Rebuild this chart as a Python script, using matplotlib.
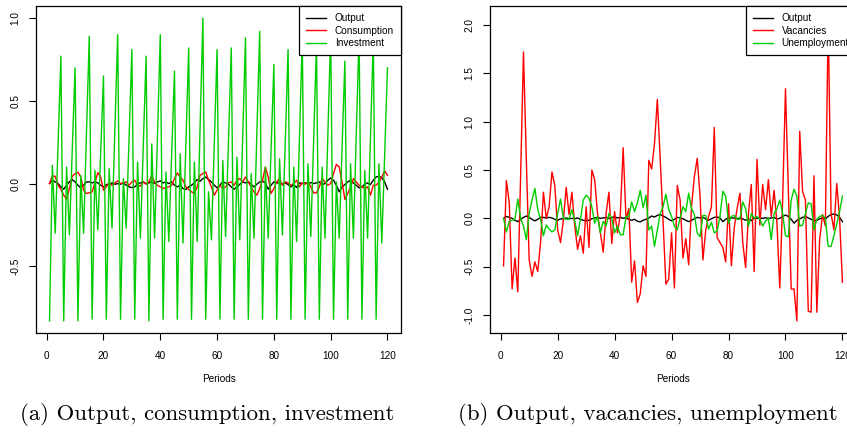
import matplotlib
matplotlib.use("Agg")
import matplotlib.pyplot as plt

periods = list(range(1, 121))

output = [
    0.0, 0.02, 0.01, 0.0, -0.02, -0.034, -0.01, 0.01, 0.024, 0.01,
    -0.01, -0.026, -0.01, 0.01, 0.01, 0.004, 0.01, 0.004, -0.01, -0.02,
    -0.006, -0.004, 0.004, -0.004, 0.0, -0.004, 0.004, -0.01, -0.02, -0.024,
    -0.02, -0.004, 0.004, 0.01, 0.0, 0.004, 0.01, 0.0, 0.01, 0.016,
    0.004, 0.01, 0.0, 0.01, -0.01, -0.02, -0.01, -0.03, -0.036, -0.02,
    -0.01, 0.004, 0.024, 0.014, 0.03, 0.04, 0.024, 0.01, -0.01, -0.026,
    -0.01, 0.01, 0.004, -0.004, -0.02, -0.034, -0.02, -0.004, 0.01, 0.004,
    0.01, -0.006, -0.02, -0.004, 0.01, 0.014, 0.004, -0.034, -0.01, 0.01,
    0.004, 0.004, -0.004, 0.004, -0.006, -0.02, -0.006, -0.024, 0.004, 0.0,
    0.004, 0.0, 0.006, 0.0, 0.004, 0.01, -0.006, 0.0, 0.02, 0.034,
    0.02, -0.01, -0.05, -0.02, -0.006, 0.01, 0.02, 0.004, -0.01, -0.026,
    -0.02, -0.004, 0.004, -0.006, 0.02, 0.04, 0.044, 0.036, 0.01, -0.034,
]

consumption = [
    0.0, 0.046, 0.044, -0.01, -0.034, -0.07, -0.094, -0.03, 0.044, 0.06,
    0.068, 0.04, -0.04, -0.06, -0.056, -0.05, 0.004, 0.066, 0.04, -0.04,
    -0.02, 0.004, -0.01, 0.004, 0.016, 0.0, 0.004, 0.01, -0.01, 0.01,
    0.02, -0.01, -0.016, 0.01, -0.004, 0.01, 0.046, 0.01, -0.01, -0.02,
    -0.03, -0.024, -0.02, -0.01, 0.03, 0.064, 0.04, 0.02, -0.02, -0.036,
    -0.05, -0.06, -0.02, 0.05, 0.06, 0.07, 0.02, -0.02, -0.07, -0.04,
    -0.01, -0.03, -0.02, 0.004, 0.01, -0.01, 0.02, 0.03, 0.01, 0.04,
    0.01, -0.02, -0.05, -0.07, -0.03, 0.02, 0.10, 0.04, -0.06, -0.03,
    0.01, 0.03, -0.01, 0.01, 0.004, -0.01, 0.0, 0.02, -0.02, 0.004,
    -0.004, 0.01, -0.02, -0.056, -0.056, -0.02, 0.03, 0.01, -0.01, 0.0,
    0.06, 0.116, 0.10, 0.01, -0.096, -0.06, -0.02, 0.03, 0.01, -0.01,
    -0.02, -0.03, -0.02, -0.07, -0.01, -0.01, 0.01, 0.04, 0.076, 0.05,
]

investment = [
    -0.83, 0.11, -0.30, 0.23, 0.77, -0.83, 0.10, -0.31, 0.20, 0.70,
    -0.83, 0.05, -0.30, 0.30, 0.89, -0.82, 0.08, -0.28, 0.18, 0.65,
    -0.82, 0.09, -0.27, 0.32, 0.90, -0.82, 0.03, -0.27, 0.27, 0.81,
    -0.82, 0.13, -0.33, 0.22, 0.77, -0.83, 0.24, -0.33, 0.28, 0.90,
    -0.82, 0.07, -0.35, 0.17, 0.68, -0.82, 0.18, -0.36, 0.23, 0.82,
    -0.82, 0.13, -0.35, 0.33, 1.00, -0.82, -0.05, -0.34, 0.23, 0.81,
    -0.82, 0.14, -0.32, 0.25, 0.82, -0.82, 0.16, -0.34, 0.27, 0.88,
    -0.82, 0.06, -0.33, 0.30, 0.92, -0.82, 0.10, -0.33, 0.20, 0.72,
    -0.82, 0.15, -0.31, 0.25, 0.81, -0.82, 0.10, -0.35, 0.27, 0.88,
    -0.82, 0.12, -0.32, 0.26, 0.84, -0.82, 0.10, -0.33, 0.29, 0.91,
    -0.82, 0.01, -0.33, 0.21, 0.74, -0.82, 0.12, -0.33, 0.29, 0.90,
    -0.82, 0.08, -0.33, 0.27, 0.87, -0.82, 0.12, -0.36, 0.17, 0.70,
]

vacancies = [
    -0.49, 0.39, 0.16, -0.73, -0.41, -0.76, 0.45, 1.72, 0.60, -0.43,
    -0.60, -0.45, -0.55, -0.25, 0.27, 0.00, 0.12, 0.48, 0.34, -0.12,
    -0.25, -0.02, 0.32, 0.04, 0.27, -0.08, -0.32, -0.18, -0.36, 0.12,
    -0.30, 0.50, 0.40, 0.05, -0.15, -0.35, 0.05, 0.27, -0.26, 0.07,
    -0.15, 0.04, 0.73, -0.01, 0.10, -0.66, -0.44, -0.87, -0.78, -0.49,
    -0.60, 0.60, 0.51, 0.77, 1.23, 0.62, -0.02, -0.68, -0.63, -0.15,
    -0.72, 0.34, 0.19, -0.41, -0.21, -0.48, 0.12, 0.43, 0.62, 0.23,
    -0.43, -0.12, 0.02, 0.12, 0.94, -0.20, -0.25, -0.30, -0.45, 0.15,
    -0.49, -0.10, 0.10, 0.26, -0.25, -0.51, 0.05, 0.35, -0.55, 0.61,
    -0.07, 0.35, 0.09, 0.40, 0.02, 0.29, -0.05, -0.72, 0.19, 1.34,
    0.30, -0.73, -0.73, -1.06, 0.90, 0.28, 0.19, -0.96, -0.97, 0.44,
    -0.97, -0.22, 0.04, -0.08, 2.07, 0.05, -0.12, 0.36, 0.00, -0.66,
]

unemployment = [
    0.00, -0.14, -0.03, -0.02, -0.01, 0.20, 0.00, -0.08, -0.22, 0.05,
    0.19, 0.31, 0.09, -0.01, -0.18, -0.07, -0.11, -0.14, -0.12, 0.05,
    0.20, 0.00, -0.01, -0.01, 0.09, -0.03, -0.18, -0.01, 0.19, 0.24,
    0.21, 0.12, -0.05, 0.02, -0.15, -0.03, -0.08, 0.05, 0.00, -0.15,
    -0.08, -0.17, -0.17, 0.02, 0.02, 0.17, 0.07, 0.16, 0.29, 0.11,
    0.24, -0.12, -0.08, -0.29, -0.12, 0.05, 0.12, 0.25, 0.09, 0.02,
    -0.08, -0.12, 0.00, 0.12, 0.07, 0.26, 0.10, 0.04, -0.15, -0.19,
    0.03, 0.03, -0.11, -0.04, -0.15, -0.13, 0.02, 0.28, 0.23, -0.05,
    0.02, 0.03, -0.01, -0.01, 0.17, 0.10, -0.08, 0.05, 0.00, 0.02,
    -0.01, -0.08, -0.03, 0.00, -0.22, 0.05, 0.10, 0.19, 0.05, -0.18,
    -0.19, 0.19, 0.30, 0.23, -0.08, -0.07, 0.05, 0.16, 0.15, -0.12,
    -0.01, 0.02, 0.03, 0.00, -0.29, -0.29, -0.18, -0.06, 0.07, 0.23,
]

x_ticks = [0, 20, 40, 60, 80, 100, 120]
left_yticks = [-0.5, 0.0, 0.5, 1.0]
left_ytick_labels = ["-0.5", "0.0", "0.5", "1.0"]
right_yticks = [-1.0, -0.5, 0.0, 0.5, 1.0, 1.5, 2.0]
right_ytick_labels = ["-1.0", "-0.5", "0.0", "0.5", "1.0", "1.5", "2.0"]
left_labels = ["Output", "Consumption", "Investment"]
right_labels = ["Output", "Vacancies", "Unemployment"]
x_label = "Periods"
caption_a = "(a) Output, consumption, investment"
caption_b = "(b) Output, vacancies, unemployment"

COL_BLACK = "#000000"
COL_RED = "#FF0000"
COL_GREEN = "#00CD00"

W, H = 847, 446
fig = plt.figure(figsize=(W / 100, H / 100), dpi=100)
plt.rcParams["font.family"] = ["Liberation Sans", "DejaVu Sans"]
FS = 7.2


def px_axes(l, t, r, b):
    return fig.add_axes([l / W, 1 - b / H, (r - l) / W, (b - t) / H])


def r_range(*series):
    lo = min(min(s) for s in series)
    hi = max(max(s) for s in series)
    d = (hi - lo) * 0.04
    return lo - d, hi + d


def style(ax, yticks, ylabels, series):
    xlo, xhi = r_range(periods)
    ax.set_xlim(xlo, xhi)
    ax.set_ylim(*r_range(*series))
    ax.set_xticks(x_ticks)
    ax.set_xticklabels([str(v) for v in x_ticks], fontsize=FS)
    ax.set_yticks(yticks)
    ax.set_yticklabels(ylabels, fontsize=FS, rotation=90, va="center")
    ax.tick_params(direction="out", length=5, width=0.8, pad=6, colors="black")
    ax.tick_params(axis="x", pad=8)
    for sp in ax.spines.values():
        sp.set_linewidth(0.9)
        sp.set_color("black")
    ax.set_xlabel(x_label, fontsize=FS, labelpad=9)


ax1 = px_axes(36, 6, 401, 333)
ax1.plot(periods, output, color=COL_BLACK, lw=1.0, label=left_labels[0])
ax1.plot(periods, consumption, color=COL_RED, lw=1.0, label=left_labels[1])
ax1.plot(periods, investment, color=COL_GREEN, lw=1.0, label=left_labels[2])
style(ax1, left_yticks, left_ytick_labels, [output, consumption, investment])

ax2 = px_axes(490, 6, 856, 333)
ax2.plot(periods, output, color=COL_BLACK, lw=1.0, label=right_labels[0])
ax2.plot(periods, vacancies, color=COL_RED, lw=1.0, label=right_labels[1])
ax2.plot(periods, unemployment, color=COL_GREEN, lw=1.0, label=right_labels[2])
style(ax2, right_yticks, right_ytick_labels, [output, vacancies, unemployment])

for ax in (ax1, ax2):
    leg = ax.legend(loc="upper right", bbox_to_anchor=(1, 1), fontsize=FS,
                    frameon=True, fancybox=False, framealpha=1,
                    edgecolor="black", borderaxespad=0, borderpad=0.7,
                    handlelength=2.0, handletextpad=0.9, labelspacing=0.25)
    leg.get_frame().set_linewidth(0.9)
    leg.set_zorder(5)

fig.text(20 / W, 1 - 414 / H, caption_a, family="cmr10", fontsize=16.4,
         ha="left", va="center")
fig.text(458 / W, 1 - 414 / H, caption_b, family="cmr10", fontsize=16.4,
         ha="left", va="center")

fig.savefig("out.png", dpi=100)
